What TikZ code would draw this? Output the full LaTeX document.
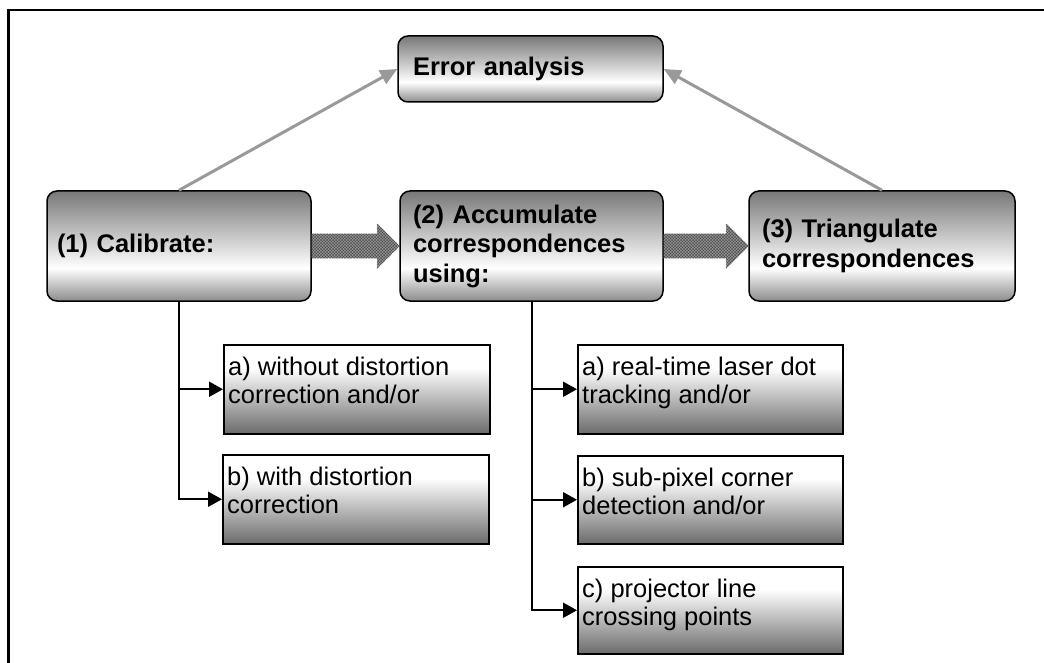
\documentclass[tikz,border=0pt]{standalone}
\usepackage{fontspec}
\setmainfont{Liberation Sans}
\usetikzlibrary{arrows.meta,calc,patterns}
\pgfdeclareverticalshading{topshade}{100bp}{color(0bp)=(black!45); color(25bp)=(black!45); color(40bp)=(white); color(75bp)=(black!53); color(100bp)=(black!53)}
\pgfdeclareverticalshading{subshade}{100bp}{color(0bp)=(black!58); color(25bp)=(black!58); color(62bp)=(white); color(75bp)=(white); color(100bp)=(white)}
\begin{document}
\begin{tikzpicture}[x=1pt,y=-1pt,
  frame/.style={line width=2.6pt, line join=miter},
  topbox/.style={draw, line width=1.5pt, rounded corners=10pt, shading=topshade,
    minimum height=110pt, align=left, inner ysep=4pt,
    font=\fontsize{25.5}{29.5}\selectfont\bfseries},
  subbox/.style={draw, line width=1.5pt, shading=subshade, anchor=north west,
    minimum width=265pt, minimum height=89pt, inner sep=0pt},
  subtext/.style={anchor=north west, inner sep=0pt, align=left,
    font=\fontsize{25.5}{28}\selectfont},
  grayarrow/.style={line width=3pt, draw=black!40, -{Triangle[length=17pt,width=15pt]}},
  conn/.style={line width=2pt, -{Triangle[length=14pt,width=15pt]}},
  bigarrow/.style={preaction={fill=black!45}, pattern=crosshatch, pattern color=black!78,
    draw=black!65, line width=0.7pt, densely dotted}
]
\useasboundingbox (0,0) rectangle (1044,663);
\draw[frame] (8.5,663) -- (8.5,10) -- (1044,10);

% main boxes
\node[topbox, minimum width=265pt, minimum height=66pt, inner xsep=15pt, text width=235pt] (err) at (530.5,69) {Error analysis};
\node[topbox, minimum width=264pt, inner xsep=10pt, text width=244pt] (cal) at (179,246) {(1) Calibrate:};
\node[topbox, minimum width=263pt, inner xsep=13pt, text width=237pt] (acc) at (531.5,246) {(2) Accumulate\\correspondences\\using:};
\node[topbox, minimum width=266pt, inner xsep=13pt, text width=240pt] (tri) at (882,246) {(3) Triangulate\\correspondences};

% gray arrows to error analysis
\draw[grayarrow] (cal.north) -- (err.west);
\draw[grayarrow] (tri.north) -- (err.east);

% hatched block arrows
\path[bigarrow] ($(cal.east)+(0,-12)$) -- ($(acc.west)+(-22,-12)$) -- ($(acc.west)+(-22,-22)$) -- (acc.west) -- ($(acc.west)+(-22,22)$) -- ($(acc.west)+(-22,12)$) -- ($(cal.east)+(0,12)$) -- cycle;
\path[bigarrow] ($(acc.east)+(0,-12)$) -- ($(tri.west)+(-22,-12)$) -- ($(tri.west)+(-22,-22)$) -- (tri.west) -- ($(tri.west)+(-22,22)$) -- ($(tri.west)+(-22,12)$) -- ($(acc.east)+(0,12)$) -- cycle;

% sub boxes
\node[subbox, minimum width=266pt] (la) at (223,344) {};
\node[subbox, minimum width=266pt] (lb) at (222,454) {};
\node[subbox] (ra) at (577,344) {};
\node[subbox, minimum height=88pt] (rb) at (577,455) {};
\node[subbox, minimum height=87pt] (rc) at (577,566) {};

\node[subtext] (lat) at ($(la.north west)+(5,13)$) {a) without distortion\\correction and/or};
\node[subtext] (lbt) at ($(lb.north west)+(5,13)$) {b) with distortion\\correction};
\node[subtext] (rat) at ($(ra.north west)+(5,13)$) {a) real-time laser dot\\tracking and/or};
\node[subtext] (rbt) at ($(rb.north west)+(5,13)$) {b) sub-pixel corner\\detection and/or};
\node[subtext] (rct) at ($(rc.north west)+(5,13)$) {c) projector line\\crossing points};

% connectors
\draw[conn] (cal.south) |- (la.west);
\draw[conn] (cal.south) |- (lb.west);
\draw[conn] (acc.south) |- (ra.west);
\draw[conn] (acc.south) |- (rb.west);
\draw[conn] (acc.south) |- (rc.west);
\end{tikzpicture}
\end{document}
